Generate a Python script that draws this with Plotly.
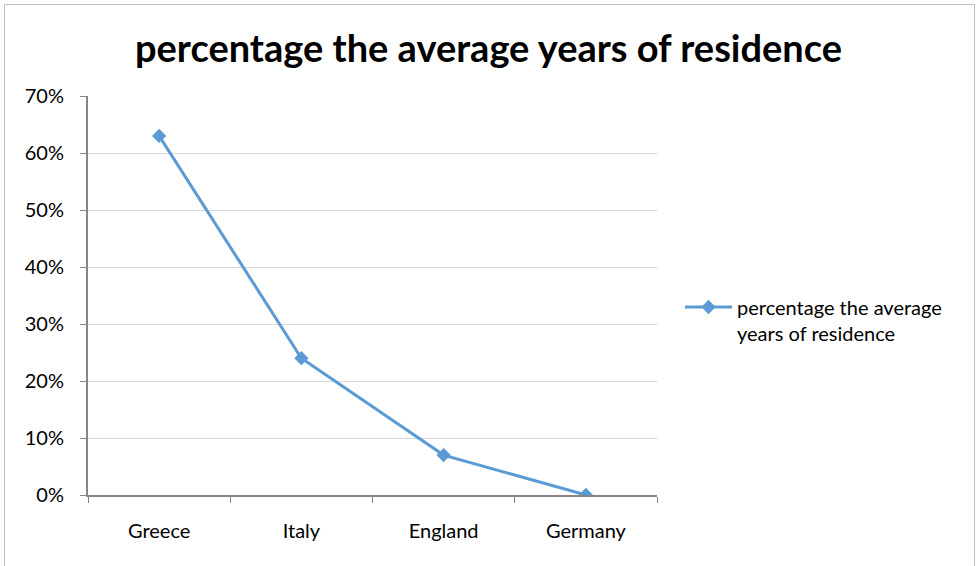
import plotly.graph_objects as go

categories = ["Greece", "Italy", "England", "Germany"]
values = [0.63, 0.24, 0.07, 0.0]
series_name = "percentage the average<br>years of residence"
title_text = "percentage the average years of residence"
y_ticks = [0, 0.1, 0.2, 0.3, 0.4, 0.5, 0.6, 0.7]

W, H = 977, 566
L, R, T, B = 88, 320, 96, 71
pw, ph = W - L - R, H - T - B

fig = go.Figure()
fig.add_trace(go.Scatter(
    x=categories, y=values, name=series_name, mode="lines+markers",
    line=dict(color="#5B9BD5", width=3),
    marker=dict(symbol="diamond", size=11, color="#5B9BD5"),
))

def px_x(v):
    return (v - L) / pw

def px_y(v):
    return (H - B - v) / ph

FONT = "Lato, Carlito, Calibri, sans-serif"

fig.update_layout(
    width=W, height=H,
    margin=dict(l=L, r=R, t=T, b=B),
    paper_bgcolor="white", plot_bgcolor="white",
    font=dict(family=FONT, size=20, color="#000000"),
    title=dict(text="<b>" + title_text + "</b>", x=0.5, xref="container", xanchor="center",
               y=1 - 49 / H, yanchor="middle",
               font=dict(size=38, family=FONT)),
    showlegend=True,
    legend=dict(x=px_x(680), xanchor="left", y=px_y(320), yanchor="middle",
                font=dict(size=20), bgcolor="rgba(0,0,0,0)", itemwidth=47,
                tracegroupgap=0, valign="top"),
    xaxis=dict(type="category", range=[-0.5, 3.5], showgrid=False, showline=True,
               linecolor="#868686", linewidth=2, ticks="outside", tickson="boundaries",
               ticklen=6, tickcolor="#868686", tickfont=dict(size=20),
               ticklabelstandoff=17),
    yaxis=dict(range=[0, 0.7], tickvals=y_ticks, tickformat=".0%", showgrid=True,
               gridcolor="#D9D9D9", gridwidth=1, showline=True, linecolor="#868686",
               linewidth=2, ticks="outside", ticklen=6, tickcolor="#868686",
               tickfont=dict(size=20), zeroline=False, ticklabelstandoff=12),
    shapes=[dict(type="rect", xref="paper", yref="paper",
                 x0=px_x(4.5), x1=px_x(974.5), y0=px_y(575), y1=px_y(4.5),
                 line=dict(color="#BFBFBF", width=1), fillcolor="rgba(0,0,0,0)",
                 layer="below")],
)

fig.write_html("out.html")
